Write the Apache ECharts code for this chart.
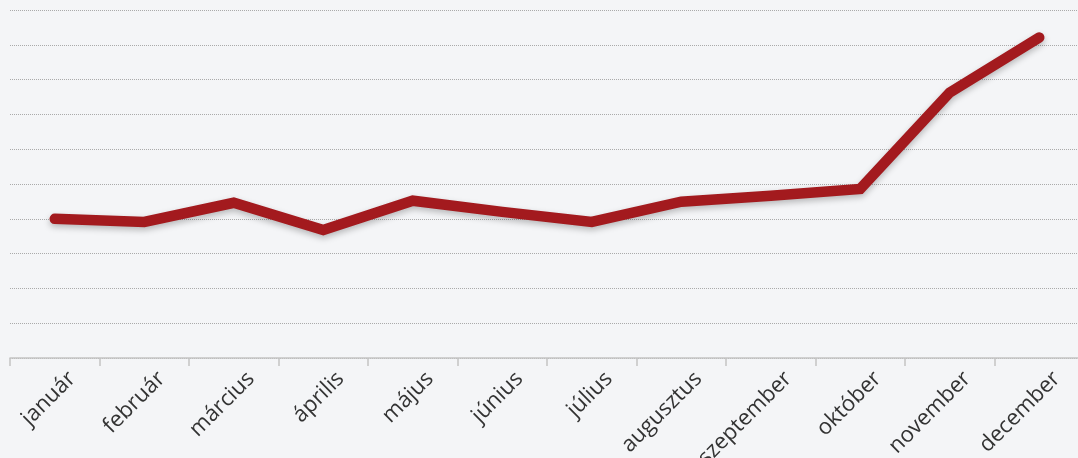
<!DOCTYPE html>
<html>
<head>
<meta charset="utf-8">
<script src="https://cdn.jsdelivr.net/npm/echarts@6/dist/echarts.min.js"></script>
<style>
html,body{margin:0;padding:0;background:#f4f5f7;}
#c{width:1078px;height:458px;}
</style>
</head>
<body>
<div id="c"></div>
<script>
const categories = ['január','február','március','április','május','június','július','augusztus','szeptember','október','november','december'];
const values = [4.0, 3.91, 4.46, 3.68, 4.52, 4.2, 3.91, 4.49, 4.66, 4.86, 7.63, 9.21];
const yMin = 0, yMax = 10, yInterval = 1;

const chart = echarts.init(document.getElementById('c'));
chart.setOption({
  backgroundColor: '#f4f5f7',
  animation: false,
  grid: { left: 10, right: -6, top: 10, bottom: 100, containLabel: false, outerBoundsMode: 'none' },
  xAxis: {
    type: 'category',
    data: categories,
    boundaryGap: true,
    axisLine: { lineStyle: { color: '#c4c4c4', width: 1.5 } },
    axisTick: { show: true, length: 8, lineStyle: { color: '#c4c4c4', width: 1.5 } },
    axisLabel: { rotate: 45, color: '#333', fontFamily: 'Open Sans', fontSize: 22, margin: 0, verticalAlign: 'top', lineHeight: 49 },
    splitLine: { show: false }
  },
  yAxis: {
    type: 'value',
    min: yMin, max: yMax, interval: yInterval,
    axisLine: { show: false },
    axisTick: { show: false },
    axisLabel: { show: false },
    splitLine: { show: true, lineStyle: { color: '#aaa', type: 'dotted', width: 1 } }
  },
  series: [{
    type: 'line',
    data: values,
    symbol: 'none',
    lineStyle: {
      color: '#a31a1e', width: 10.5, cap: 'round', join: 'miter',
      shadowColor: 'rgba(0,0,0,0.25)', shadowBlur: 6, shadowOffsetY: 3
    }
  }]
});
</script>
</body>
</html>
